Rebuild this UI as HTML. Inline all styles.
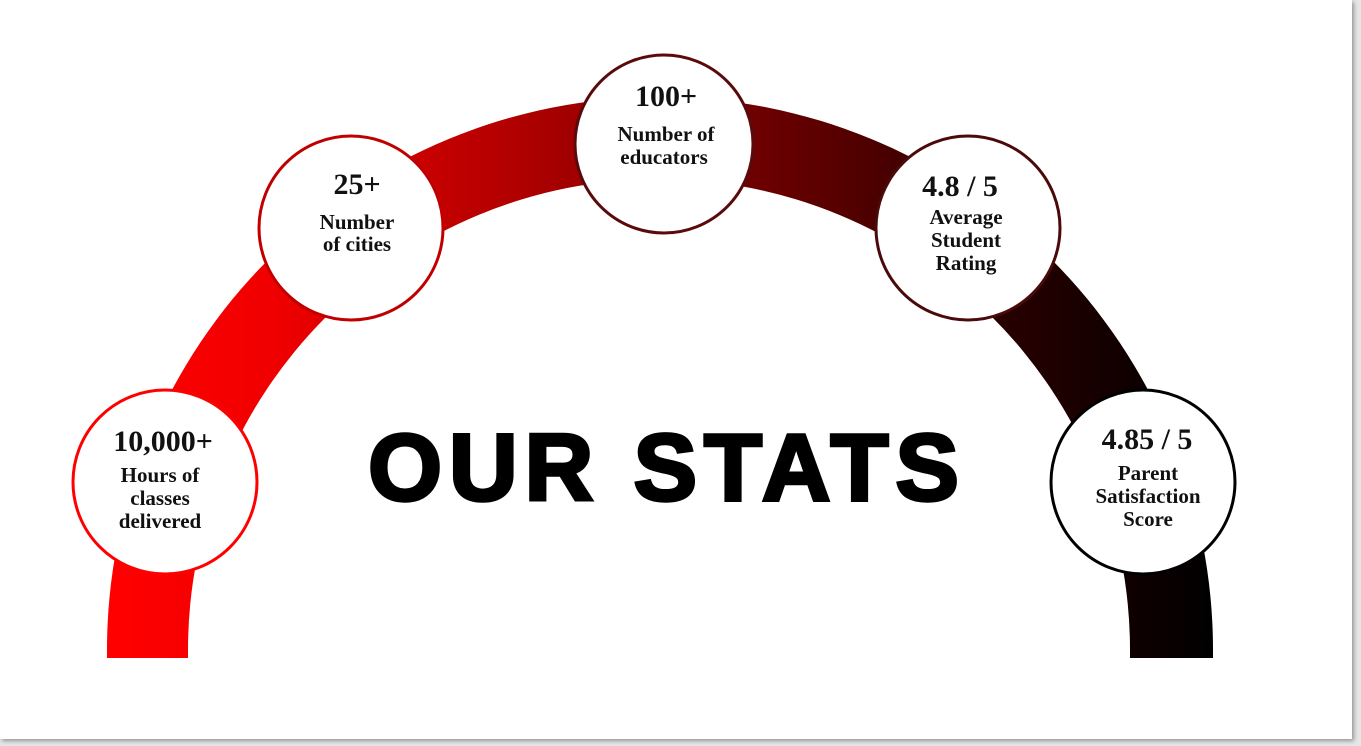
<!DOCTYPE html>
<html><head><meta charset="utf-8">
<style>
html,body{margin:0;padding:0;width:1361px;height:746px;overflow:hidden;background:#e6e6e6;}
#slide{position:absolute;left:0;top:0;width:1352px;height:739px;background:#fff;box-shadow:2px 2px 4px rgba(0,0,0,.35);}
svg{position:absolute;left:0;top:0;}
.num{font-family:"Liberation Serif",serif;font-weight:bold;font-size:30px;fill:#111;}
.lab{font-family:"Liberation Serif",serif;font-weight:bold;font-size:21px;fill:#111;}
.title{font-family:"Liberation Sans",sans-serif;font-weight:900;font-size:95px;letter-spacing:7px;fill:#000;stroke:#000;stroke-width:3.5px;}
</style></head><body>
<div id="slide">
<svg width="1361" height="746" viewBox="0 0 1361 746">
<defs>
<linearGradient id="g" x1="107" y1="0" x2="1213" y2="0" gradientUnits="userSpaceOnUse">
<stop offset="0" stop-color="#ff0000"/><stop offset="0.15" stop-color="#f00000"/><stop offset="0.5" stop-color="#8a0000"/><stop offset="0.8" stop-color="#2a0000"/><stop offset="1" stop-color="#000"/>
</linearGradient>
</defs>
<path fill="url(#g)" d="M107 658 L107 650 A553 553 0 0 1 1213 650 L1213 658 L1130 658 L1130 650 A471 471 0 0 0 188 650 L188 658 Z"/>
<text class="title" x="667" y="500" text-anchor="middle">OUR STATS</text>

<g>
<circle cx="165" cy="482" r="92" fill="#fff" stroke="#ff0000" stroke-width="3"/>
<text class="num" x="163" y="451" text-anchor="middle">10,000+</text>
<text class="lab" x="160" y="482" text-anchor="middle">Hours of</text>
<text class="lab" x="160" y="505" text-anchor="middle">classes</text>
<text class="lab" x="160" y="528" text-anchor="middle">delivered</text>
</g>
<g>
<circle cx="351" cy="228" r="92" fill="#fff" stroke="#c00000" stroke-width="3"/>
<text class="num" x="357" y="194" text-anchor="middle">25+</text>
<text class="lab" x="357" y="229" text-anchor="middle">Number</text>
<text class="lab" x="357" y="251" text-anchor="middle">of cities</text>
</g>
<g>
<circle cx="664" cy="144" r="89" fill="#fff" stroke="#5a0a0a" stroke-width="3"/>
<text class="num" x="666" y="106" text-anchor="middle">100+</text>
<text class="lab" x="666" y="141" text-anchor="middle">Number of</text>
<text class="lab" x="664" y="164" text-anchor="middle">educators</text>
</g>
<g>
<circle cx="968" cy="228" r="92" fill="#fff" stroke="#4a0a0a" stroke-width="3"/>
<text class="num" x="960" y="196" text-anchor="middle">4.8 / 5</text>
<text class="lab" x="966" y="224" text-anchor="middle">Average</text>
<text class="lab" x="966" y="247" text-anchor="middle">Student</text>
<text class="lab" x="966" y="270" text-anchor="middle">Rating</text>
</g>
<g>
<circle cx="1143" cy="482" r="92" fill="#fff" stroke="#000" stroke-width="3"/>
<text class="num" x="1147" y="449" text-anchor="middle">4.85 / 5</text>
<text class="lab" x="1148" y="480" text-anchor="middle">Parent</text>
<text class="lab" x="1148" y="503" text-anchor="middle">Satisfaction</text>
<text class="lab" x="1148" y="526" text-anchor="middle">Score</text>
</g>
</svg>
</div>
</body></html>
